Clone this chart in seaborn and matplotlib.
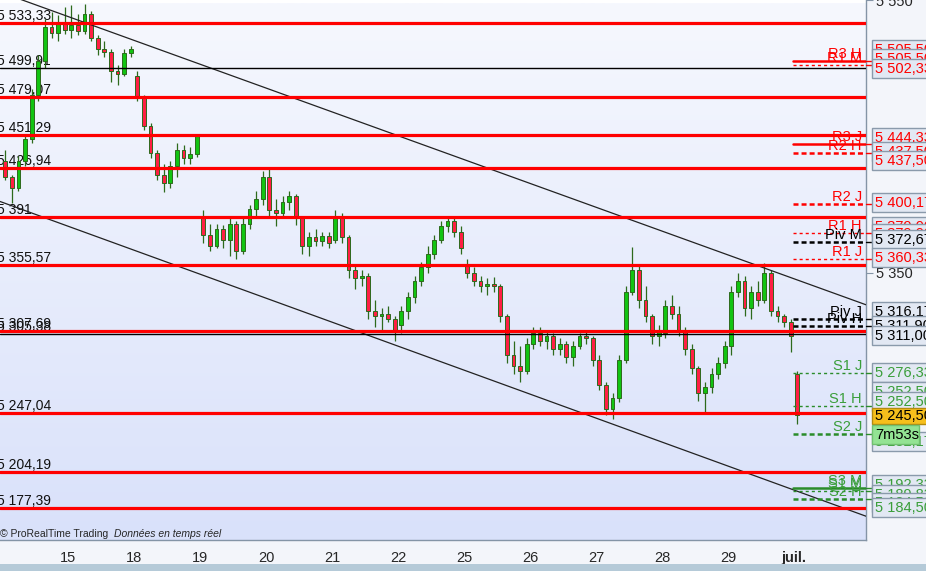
import numpy as np
import matplotlib
matplotlib.use("Agg")
import matplotlib.pyplot as plt
from matplotlib.colors import LinearSegmentedColormap
from matplotlib.patches import Rectangle
import seaborn as sns

# sessions: day 14 (partial, left edge), then the labelled days
day_labels = ["15", "18", "19", "20", "21", "22", "25", "26", "27", "28", "29", "juil."]

# first open of each session; other opens are the previous close
day_opens = [5432, 5528, 5494, 5392, 5420, 5374, 5312, 5356, 5298, 5286, 5306, 5296, 5276]

closes = [
    5420, 5412, 5432, 5448, 5480, 5505, 5530, 5526, 5534, 5528,   # 14
    5532, 5527, 5540, 5522, 5514, 5512, 5498, 5496, 5511, 5514,   # 15
    5478, 5458, 5438, 5422, 5416, 5428, 5440, 5434, 5437, 5450,   # 18
    5378, 5370, 5382, 5374, 5386, 5366, 5386, 5397, 5404, 5420,   # 19
    5396, 5394, 5402, 5406, 5390, 5370, 5376, 5373, 5377, 5372,   # 20
    5392, 5376, 5352, 5346, 5348, 5322, 5318, 5320, 5316, 5308,   # 21
    5322, 5332, 5344, 5354, 5364, 5374, 5384, 5388, 5380, 5368,   # 22
    5350, 5344, 5340, 5342, 5340, 5318, 5290, 5282, 5278, 5298,   # 25
    5306, 5300, 5304, 5294, 5298, 5288, 5296, 5304, 5302, 5286,   # 26
    5268, 5250, 5258, 5286, 5336, 5352, 5330, 5318, 5304, 5308,   # 27
    5326, 5320, 5308, 5294, 5280, 5262, 5266, 5276, 5284, 5296,   # 28
    5336, 5344, 5324, 5336, 5330, 5350, 5322, 5318, 5314, 5304,   # 29
    5245.5,                                                       # juil.
]
highs = [
    5440, 5422, 5436, 5452, 5485, 5510, 5536, 5541, 5539, 5545,
    5546, 5540, 5547, 5542, 5524, 5520, 5514, 5502, 5514, 5516,
    5498, 5480, 5460, 5440, 5430, 5432, 5445, 5444, 5442, 5452,
    5396, 5386, 5386, 5385, 5390, 5388, 5390, 5400, 5410, 5425,
    5426, 5404, 5406, 5410, 5408, 5392, 5380, 5382, 5380, 5380,
    5396, 5394, 5378, 5356, 5352, 5350, 5330, 5324, 5326, 5318,
    5326, 5336, 5348, 5358, 5370, 5378, 5388, 5392, 5391, 5384,
    5360, 5354, 5348, 5346, 5347, 5342, 5320, 5300, 5296, 5302,
    5310, 5310, 5308, 5306, 5302, 5300, 5300, 5306, 5308, 5304,
    5290, 5270, 5262, 5290, 5340, 5369, 5356, 5340, 5320, 5312,
    5330, 5334, 5326, 5310, 5298, 5282, 5270, 5280, 5288, 5300,
    5340, 5350, 5348, 5340, 5344, 5357, 5352, 5326, 5320, 5316,
    5278,
]
lows = [
    5418, 5401, 5410, 5428, 5445, 5476, 5500, 5522, 5520, 5525,
    5522, 5524, 5525, 5520, 5510, 5508, 5490, 5488, 5494, 5508,
    5476, 5455, 5434, 5418, 5409, 5412, 5420, 5430, 5430, 5435,
    5372, 5366, 5368, 5368, 5362, 5360, 5364, 5382, 5390, 5400,
    5392, 5384, 5390, 5396, 5385, 5364, 5362, 5370, 5370, 5368,
    5372, 5372, 5346, 5338, 5340, 5316, 5310, 5308, 5314, 5300,
    5306, 5316, 5328, 5340, 5350, 5360, 5372, 5380, 5376, 5364,
    5346, 5340, 5336, 5334, 5336, 5314, 5284, 5276, 5270, 5276,
    5294, 5296, 5294, 5290, 5290, 5284, 5282, 5294, 5298, 5282,
    5264, 5246, 5243, 5255, 5284, 5334, 5324, 5314, 5298, 5296,
    5302, 5316, 5304, 5290, 5276, 5256, 5247, 5262, 5272, 5280,
    5290, 5332, 5318, 5316, 5326, 5328, 5318, 5314, 5310, 5292,
    5239,
]

# horizontal support / resistance levels across the chart
levels = [5533.33, 5499.91, 5479.07, 5451.29, 5426.94, 5391.00,
          5355.57, 5307.69, 5305.38, 5247.04, 5204.19, 5177.39]
level_texts = ["5 533,33", "5 499,91", "5 479,07", "5 451,29", "5 426,94", "5 391",
               "5 355,57", "5 307,69", "5 305,38", "5 247,04", "5 204,19", "5 177,39"]
thin_levels = [5499.91, 5305.38]

# channel lines
upper_x = [-0.03, 13.09]
upper_y = [5555.9, 5326.6]
lower_x = [-0.03, 13.09]
lower_y = [5402.3, 5171.6]

# pivot points (J = jour, H = hebdo, M = mois)
pivot_names = ["R3 H", "R1 M", "R3 J", "R2 H", "R2 J", "R1 H", "Piv M", "R1 J",
               "Piv J", "Piv H", "S1 J", "S1 H", "S2 J", "S3 M", "S1 M", "S2 H"]
pivot_values = [5505.50, 5502.33, 5444.33, 5437.50, 5400.17, 5379.00, 5372.67, 5360.33,
                5316.17, 5311.00, 5276.33, 5252.50, 5232.17, 5192.33, 5189.83, 5184.50]

# price boxes on the right axis
box_values = [5505.50, 5505.50, 5502.33, 5444.33, 5437.50, 5437.50, 5400.17,
              5379.00, 5379.00, 5372.67, 5360.33, 5316.17, 5311.90, 5311.00,
              5276.33, 5252.50, 5252.50, 5232.17, 5192.33, 5189.83, 5184.50, 5184.50]
last_price = 5245.50
countdown = "7m53s"

RED = "#ff0000"
GREEN = "#2a8c2a"
GREEN_TXT = "#3a9e3a"
BLACK = "#000000"

def fr(v):
    return f"{v:,.2f}".replace(",", " ").replace(".", ",")

sns.set_style("white")
plt.rcParams["font.family"] = ["Liberation Sans", "DejaVu Sans"]
plt.rcParams["lines.scale_dashes"] = False

W, H = 926, 571
fig = plt.figure(figsize=(W / 100, H / 100), dpi=100, facecolor="#f3f5fa")
ax = fig.add_axes([0, 31 / H, 866 / W, 540 / H])
xmin, xmax = 1 - 68 / 66, 1 + 798 / 66
ymin, ymax = 5154.15, 5547.16
ax.set_xlim(xmin, xmax)
ax.set_ylim(ymin, ymax)

# background gradient
bg = LinearSegmentedColormap.from_list("bg", ["#d9e1fa", "#f6f8fe"])
ax.imshow(np.linspace(0, 1, 256).reshape(-1, 1), extent=[xmin, xmax, ymin, ymax],
          aspect="auto", cmap=bg, origin="lower", zorder=0)

# full width levels with their labels on the left
for v, t in zip(levels, level_texts):
    thin = v in thin_levels
    ax.axhline(v, color=BLACK if thin else RED, lw=1.0 if thin else 2.3, zorder=5)
    ax.annotate(t, xy=(0, v), xycoords=("axes fraction", "data"), xytext=(-3, 3),
                textcoords="offset pixels", ha="left", va="baseline",
                fontsize=10, color="#111111", zorder=1)

# channel
sns.lineplot(x=upper_x, y=upper_y, ax=ax, color="#222222", lw=0.9, zorder=4)
sns.lineplot(x=lower_x, y=lower_y, ax=ax, color="#222222", lw=0.9, zorder=4)

# candlesticks
n = len(closes)
xs = np.array([i // 10 + (i % 10 + 0.5) / 10 for i in range(n)])
opens = np.array([day_opens[i // 10] if i % 10 == 0 else closes[i - 1] for i in range(n)])
cl = np.array(closes)
body_lo = np.minimum(opens, cl)
body_h = np.maximum(np.abs(cl - opens), 0.7)
cols = np.where(cl >= opens, "#12c412", "#ff1f44")
edge = "#2d6a1c"
ax.vlines(xs, lows, highs, color=edge, lw=0.9, zorder=3)
ax.bar(xs, body_h, bottom=body_lo, width=0.058, color=cols, edgecolor=edge,
       linewidth=0.7, zorder=3.5)

# pivot segments on the last session
thick = (3.6, 2.2)
thin = (2.2, 2.2)
pivot_styles = [
    (RED, 1.8, None), (RED, 1.0, thin), (RED, 1.8, None), (RED, 1.8, thick),
    (RED, 1.8, thick), (RED, 1.0, thin), (BLACK, 1.8, thick), (RED, 1.0, thin),
    (BLACK, 1.8, thick), (BLACK, 1.8, thick), (GREEN, 1.0, thin), (GREEN, 1.0, thin),
    (GREEN, 1.8, thick), (GREEN, 1.8, None), (GREEN, 1.0, thin), (GREEN, 1.8, thick),
]
x0 = 1 + (793 - 68) / 66
for name, v, (c, lw, d) in zip(pivot_names, pivot_values, pivot_styles):
    ln, = ax.plot([x0, xmax], [v, v], color=c, lw=lw, zorder=6)
    if d is not None:
        ln.set_dashes(d)
    ax.plot([1.0, 1 + 6 / 866], [v, v], color=c, lw=1.0, clip_on=False,
            transform=ax.get_yaxis_transform(), zorder=6)
    tc = GREEN_TXT if c == GREEN else c
    ax.annotate(name, xy=(1.0, v), xycoords=("axes fraction", "data"), xytext=(-4, 3),
                textcoords="offset pixels", ha="right", va="baseline",
                fontsize=10.5, color=tc, zorder=7)

# axes decoration
for s in ["top", "left"]:
    ax.spines[s].set_visible(False)
for s in ["bottom", "right"]:
    ax.spines[s].set_color("#8494a6")
    ax.spines[s].set_linewidth(1.0)
ax.set_xticks(range(1, 13))
ax.set_xticklabels(day_labels, fontsize=10.5)
ax.get_xticklabels()[-1].set_fontweight("bold")
ax.tick_params(axis="x", direction="out", length=4, color="#8494a6", pad=4)
ax.yaxis.tick_right()
ax.set_yticks([5350, 5550])
ax.set_yticklabels(["5 350", "5 550"], fontsize=10.5)
ax.tick_params(axis="y", direction="out", length=5, color="#8494a6", pad=2)
ax.set_xlabel("")
ax.set_ylabel("")

ax.annotate("© ProRealTime Trading", xy=(0, 3), xycoords="axes pixels",
            fontsize=7.5, va="baseline", zorder=8)
ax.annotate("Données en temps réel", xy=(114, 3), xycoords="axes pixels",
            fontsize=7.5, style="italic", va="baseline", zorder=8)

# right-hand price boxes (stacked like the platform does)
def fig_box(top, height, width, fc, ec, text, tc, z):
    fig.patches.append(Rectangle((872 / W, 1 - (top + height) / H), width / W, height / H,
                                 transform=fig.transFigure, facecolor=fc, edgecolor=ec,
                                 linewidth=1.0, zorder=z))
    fig.text(875 / W, 1 - (top + height / 2 + 0.5) / H, text, color=tc, fontsize=10.5,
             va="center", ha="left", zorder=z + 0.5)

box_tops = [40, 49, 59, 128, 142, 151, 193, 217, 224, 230, 247.5,
            302, 316, 326, 363, 382, 392, 432, 475, 485, 493, 498]
box_colors = [RED] * 7 + [RED, RED, BLACK, RED] + [BLACK] * 3 + [GREEN_TXT] * 8
for k, (top, v, c) in enumerate(zip(box_tops, box_values, box_colors)):
    fig_box(top, 19, 60, "#e2e8f3", "#8a9aab", fr(v), c, 10 + k)

fig_box(408, 16, 60, "#f6bf1c", "#b38a10", fr(last_price), BLACK, 60)
fig_box(425, 19, 47, "#93e393", "#70c070", countdown, BLACK, 62)

# bottom status strip
fig.patches.append(Rectangle((0, 0), 1, 7 / H, transform=fig.transFigure,
                             facecolor="#b5cad8", edgecolor="none", zorder=1))

fig.savefig("out.png", dpi=100, facecolor=fig.get_facecolor())
